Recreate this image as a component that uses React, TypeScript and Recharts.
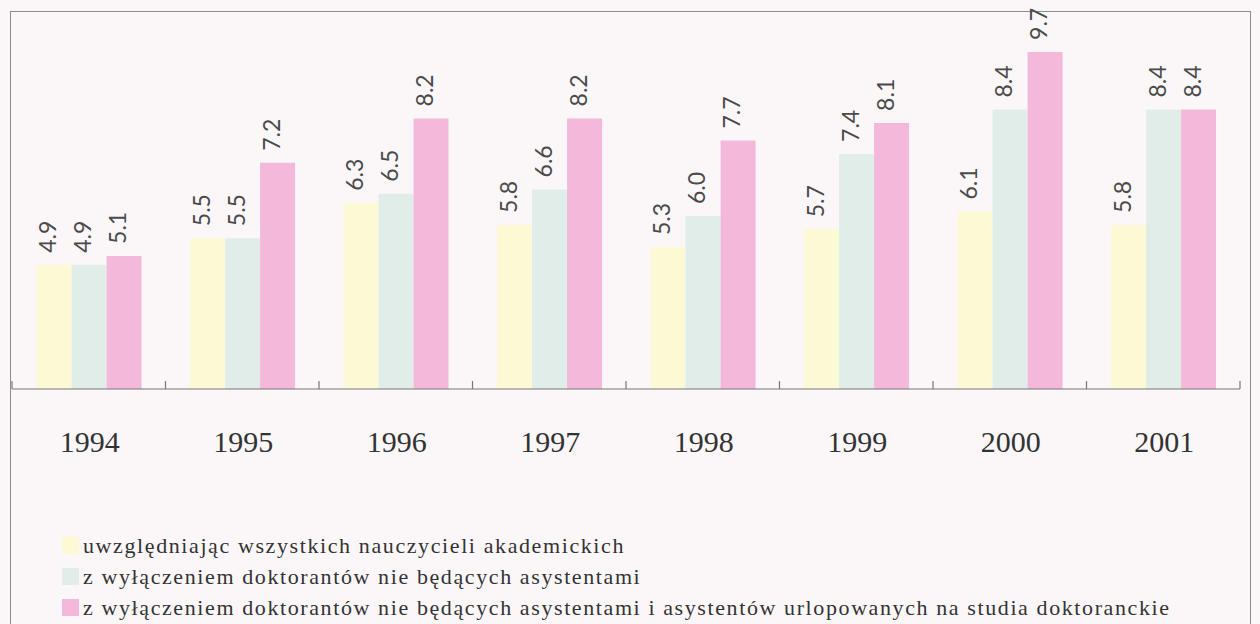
import { BarChart, Bar, XAxis, YAxis, Legend } from 'recharts';

const years = ['1994', '1995', '1996', '1997', '1998', '1999', '2000', '2001'];
const allStaff = [4.9, 5.5, 6.3, 5.8, 5.3, 5.7, 6.1, 5.8];
const withoutPhd = [4.9, 5.5, 6.5, 6.6, 6.0, 7.4, 8.4, 8.4];
const withoutPhdAndLeave = [5.1, 7.2, 8.2, 8.2, 7.7, 8.1, 9.7, 8.4];

const seriesNames = [
  'uwzględniając wszystkich nauczycieli akademickich',
  'z wyłączeniem doktorantów nie będących asystentami',
  'z wyłączeniem doktorantów nie będących asystentami i asystentów urlopowanych na studia doktoranckie',
];

const data = years.map((year, i) => ({
  year,
  all: allStaff[i],
  noPhd: withoutPhd[i],
  noPhdLeave: withoutPhdAndLeave[i],
}));

const COLORS = ['#fcf9d4', '#e1ede9', '#f4b9da'];

const ValueLabel = (props: any) => {
  const { x, y, width, value } = props;
  const cx = x + width / 2;
  return (
    <text
      transform={`translate(${cx + 2}, ${y - 12}) rotate(-90)`}
      textAnchor="start"
      fill="#4a4a4a"
      fontFamily="Lato, 'Open Sans', sans-serif"
      fontSize={23}
    >
      {Number(value).toFixed(1)}
    </text>
  );
};

// year label plus short upward ticks on the category boundaries
const YearTick = (props: any) => {
  const { x, y, payload, index, width, visibleTicksCount } = props;
  const band = width / visibleTicksCount;
  const left = x - band / 2;
  const right = x + band / 2;
  return (
    <g>
      <line x1={left} x2={left} y1={y - 8} y2={y} stroke="#777" strokeWidth={1.2} />
      {index === visibleTicksCount - 1 && (
        <line x1={right} x2={right} y1={y - 8} y2={y} stroke="#777" strokeWidth={1.2} />
      )}
      <text
        x={x + 1}
        y={y + 63}
        textAnchor="middle"
        fill="#333"
        fontFamily="'Liberation Serif', 'Times New Roman', serif"
        fontSize={30}
      >
        {payload.value}
      </text>
    </g>
  );
};

const LegendList = ({ payload }: any) => (
  <div style={{ display: 'flex', flexDirection: 'column', gap: 8 }}>
    {(payload || []).map((entry: any) => (
      <div key={entry.value} style={{ display: 'flex', alignItems: 'center' }}>
        <span
          style={{
            display: 'inline-block',
            width: 17,
            height: 17,
            background: entry.color,
            marginRight: 4,
          }}
        />
        <span
          style={{
            fontFamily: "'Liberation Serif', 'Times New Roman', serif",
            fontSize: 22,
            letterSpacing: '1.6px',
            color: '#333',
            lineHeight: '23px',
            whiteSpace: 'nowrap',
          }}
        >
          {entry.value}
        </span>
      </div>
    ))}
  </div>
);

export default function App() {
  return (
    <div
      style={{
        position: 'absolute',
        left: 0,
        top: 0,
        width: 1260,
        height: 624,
        overflow: 'hidden',
        background: '#fbf7f9',
      }}
    >
      <div
        style={{
          position: 'absolute',
          left: 10,
          top: 11,
          width: 1239,
          height: 700,
          border: '1.5px solid #8c8c8c',
        }}
      />
      <BarChart
        width={1260}
        height={624}
        data={data}
        margin={{ top: 12, right: 20, left: 12, bottom: 0 }}
        barCategoryGap="16%"
        barGap={0}
      >
        <XAxis
          dataKey="year"
          height={235}
          axisLine={{ stroke: '#777', strokeWidth: 1.2 }}
          tickLine={false}
          tickSize={0}
          tickMargin={0}
          interval={0}
          tick={<YearTick />}
        />
        <YAxis hide domain={[2.1, 10.6]} allowDataOverflow />
        <Legend
          layout="vertical"
          align="center"
          verticalAlign="middle"
          content={<LegendList />}
          wrapperStyle={{ position: 'absolute', left: 62, top: 534, width: 1180 }}
        />
        <Bar dataKey="all" name={seriesNames[0]} fill={COLORS[0]} isAnimationActive={false} label={<ValueLabel />} />
        <Bar dataKey="noPhd" name={seriesNames[1]} fill={COLORS[1]} isAnimationActive={false} label={<ValueLabel />} />
        <Bar dataKey="noPhdLeave" name={seriesNames[2]} fill={COLORS[2]} isAnimationActive={false} label={<ValueLabel />} />
      </BarChart>
    </div>
  );
}
